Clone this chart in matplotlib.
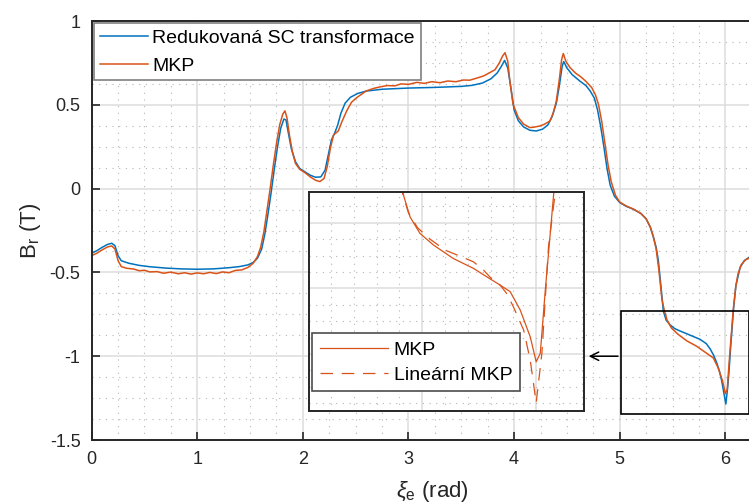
import numpy as np
import matplotlib.pyplot as plt
from matplotlib.ticker import MultipleLocator
from matplotlib.patches import Rectangle

plt.rcParams['font.family'] = ['Liberation Sans', 'DejaVu Sans']
plt.rcParams['mathtext.fontset'] = 'custom'
plt.rcParams['mathtext.rm'] = 'Liberation Sans'
plt.rcParams['mathtext.it'] = 'Liberation Sans:italic'

# ------------------------------------------------------------
# Data
# ------------------------------------------------------------
sc_x = [0.00, 0.05, 0.10, 0.15, 0.19, 0.22, 0.25, 0.28, 0.35, 0.45, 0.55, 0.70,
        0.85, 1.00, 1.15, 1.30, 1.40, 1.48, 1.53, 1.57, 1.61, 1.64, 1.67, 1.70,
        1.73, 1.76, 1.79, 1.82, 1.84, 1.86, 1.89, 1.93, 1.97, 2.02, 2.07, 2.12,
        2.17, 2.21, 2.24, 2.27, 2.30, 2.33, 2.36, 2.40, 2.45, 2.52, 2.60, 2.75,
        3.00, 3.25, 3.50, 3.60, 3.70, 3.78, 3.84, 3.88, 3.91, 3.94, 3.97, 4.00,
        4.04, 4.09, 4.15, 4.21, 4.27, 4.32, 4.36, 4.40, 4.43, 4.455, 4.47, 4.50,
        4.55, 4.62, 4.68, 4.72, 4.76, 4.79, 4.82, 4.85, 4.88, 4.91, 4.95, 5.00,
        5.06, 5.13, 5.20, 5.25, 5.29, 5.32, 5.345, 5.366, 5.39, 5.413, 5.44, 5.476,
        5.52, 5.57, 5.65, 5.76, 5.82, 5.855, 5.89, 5.918, 5.945, 5.966, 5.985, 6.005,
        6.02, 6.035, 6.05, 6.076, 6.10, 6.14, 6.18, 6.225, 6.283]
sc_y = [-0.385, -0.37, -0.35, -0.333, -0.326, -0.34, -0.40, -0.43, -0.445, -0.458, -0.466, -0.474,
        -0.479, -0.481, -0.479, -0.472, -0.465, -0.455, -0.44, -0.415, -0.36, -0.27, -0.15, -0.02,
        0.12, 0.25, 0.36, 0.415, 0.41, 0.34, 0.24, 0.16, 0.12, 0.10, 0.08, 0.068,
        0.07, 0.11, 0.20, 0.29, 0.33, 0.38, 0.45, 0.51, 0.545, 0.568, 0.582, 0.593,
        0.600, 0.604, 0.61, 0.616, 0.630, 0.655, 0.69, 0.73, 0.765, 0.72, 0.60, 0.47,
        0.405, 0.368, 0.348, 0.344, 0.355, 0.38, 0.43, 0.51, 0.62, 0.73, 0.758, 0.72,
        0.68, 0.643, 0.615, 0.583, 0.54, 0.47, 0.37, 0.25, 0.12, 0.02, -0.045, -0.083,
        -0.105, -0.123, -0.148, -0.18, -0.23, -0.292, -0.35, -0.43, -0.58, -0.73, -0.785, -0.812,
        -0.835, -0.849, -0.87, -0.899, -0.925, -0.955, -0.995, -1.038, -1.09, -1.147, -1.215, -1.285,
        -1.20, -1.09, -0.95, -0.73, -0.58, -0.47, -0.43, -0.41, -0.385]

mkp_x = [0.00, 0.05, 0.10, 0.15, 0.19, 0.22, 0.25, 0.28, 0.33, 0.40, 0.45, 0.50,
         0.55, 0.62, 0.68, 0.75, 0.82, 0.88, 0.94, 1.00, 1.06, 1.12, 1.18, 1.24,
         1.30, 1.36, 1.42, 1.48, 1.53, 1.57, 1.60, 1.63, 1.66, 1.69, 1.72, 1.75,
         1.78, 1.81, 1.83, 1.85, 1.87, 1.90, 1.93, 1.97, 2.02, 2.07, 2.12, 2.16,
         2.20, 2.23, 2.26, 2.29, 2.335, 2.37, 2.415, 2.46, 2.51, 2.56, 2.60, 2.67,
         2.73, 2.80, 2.87, 2.93, 3.00, 3.08, 3.15, 3.22, 3.30, 3.37, 3.45, 3.52,
         3.58, 3.65, 3.71, 3.77, 3.82, 3.86, 3.89, 3.914, 3.94, 3.96, 3.99, 4.04,
         4.09, 4.15, 4.20, 4.245, 4.29, 4.34, 4.37, 4.40, 4.43, 4.45, 4.466, 4.49,
         4.53, 4.58, 4.63, 4.68, 4.735, 4.77, 4.80, 4.83, 4.86, 4.89, 4.92, 4.96,
         5.00, 5.06, 5.13, 5.20, 5.25, 5.29, 5.32, 5.345, 5.37, 5.40, 5.42, 5.447,
         5.49, 5.55, 5.637, 5.725, 5.784, 5.842, 5.886, 5.93, 5.974, 6.00, 6.018, 6.04,
         6.077, 6.10, 6.12, 6.15, 6.19, 6.225, 6.283]
mkp_y = [-0.40, -0.385, -0.365, -0.348, -0.342, -0.36, -0.43, -0.465, -0.475, -0.48, -0.49, -0.487,
         -0.497, -0.495, -0.505, -0.498, -0.508, -0.502, -0.51, -0.503, -0.508, -0.50, -0.507, -0.497,
         -0.502, -0.488, -0.485, -0.47, -0.445, -0.405, -0.35, -0.26, -0.13, 0.0, 0.14, 0.27,
         0.38, 0.445, 0.464, 0.42, 0.33, 0.22, 0.15, 0.115, 0.095, 0.07, 0.05, 0.042,
         0.06, 0.13, 0.24, 0.32, 0.344, 0.40, 0.464, 0.515, 0.543, 0.565, 0.583, 0.598,
         0.607, 0.615, 0.613, 0.625, 0.622, 0.634, 0.628, 0.638, 0.632, 0.642, 0.638, 0.648,
         0.647, 0.66, 0.672, 0.692, 0.71, 0.75, 0.79, 0.811, 0.76, 0.64, 0.504, 0.424,
         0.385, 0.364, 0.368, 0.374, 0.385, 0.404, 0.45, 0.523, 0.66, 0.77, 0.806, 0.76,
         0.722, 0.69, 0.668, 0.64, 0.603, 0.56, 0.50, 0.40, 0.27, 0.14, 0.04, -0.04,
         -0.08, -0.103, -0.122, -0.148, -0.18, -0.23, -0.29, -0.36, -0.48, -0.66, -0.72, -0.782,
         -0.832, -0.868, -0.909, -0.939, -0.965, -0.99, -1.01, -1.066, -1.148, -1.224, -1.198, -1.005,
         -0.71, -0.58, -0.51, -0.455, -0.425, -0.415, -0.40]

lin_x = [5.38, 5.41, 5.44, 5.48, 5.535, 5.60, 5.67, 5.725, 5.769, 5.81, 5.842, 5.87,
         5.90, 5.945, 5.974, 6.00, 6.025, 6.054, 6.083, 6.10]
lin_y = [-0.55, -0.70, -0.77, -0.815, -0.85, -0.883, -0.903, -0.919, -0.944, -0.975, -0.99, -1.015,
         -1.056, -1.127, -1.219, -1.349, -1.198, -0.873, -0.711, -0.62]

blue = '#0072BD'
orange = '#D95319'
dark = '#262626'

fig = plt.figure(figsize=(7.49, 5.03), dpi=100)
ax = fig.add_axes([0.1224, 0.1252, 0.8859, 0.833])


def style_grid(a, xmaj, xmin, ymaj, ymin):
    a.xaxis.set_major_locator(MultipleLocator(xmaj))
    a.xaxis.set_minor_locator(MultipleLocator(xmin))
    a.yaxis.set_major_locator(MultipleLocator(ymaj))
    a.yaxis.set_minor_locator(MultipleLocator(ymin))
    a.grid(True, which='major', color='#dcdcdc', lw=1.1)
    a.grid(True, which='minor', color='#b5b5b5', lw=0.8, linestyle=(0, (1, 5)))
    a.set_axisbelow(True)
    for s in a.spines.values():
        s.set_color(dark)
        s.set_linewidth(1.4)


# ------------------------------------------------------------
# Main axes
# ------------------------------------------------------------
ax.plot(sc_x, sc_y, color=blue, lw=1.1, label='Redukovaná SC transformace')
ax.plot(mkp_x, mkp_y, color=orange, lw=1.1, label='MKP')
ax.set_xlim(0, 2 * np.pi)
ax.set_ylim(-1.5, 1)
style_grid(ax, 1, 0.25, 0.5, 0.125)
ax.tick_params(which='major', direction='in', length=6, width=1.2, colors=dark,
               labelsize=13, pad=8)
ax.tick_params(which='minor', length=0)
ax.set_yticks([-1.5, -1, -0.5, 0, 0.5, 1])
ax.set_yticklabels(['-1.5', '-1', '-0.5', '0', '0.5', '1'])
ax.set_xlabel(r'$\xi_\mathrm{e}$ (rad)', fontsize=16, color=dark, labelpad=8)
ax.xaxis.label.set_x(0.513)
ax.set_ylabel(r'B$_\mathrm{r}$ (T)', fontsize=16, color=dark, labelpad=5)

leg = ax.legend(loc='upper left', fontsize=14, frameon=True, fancybox=False,
                borderaxespad=0.12, borderpad=0.3, handlelength=2.5,
                handletextpad=0.2, labelspacing=0.52)
leg.get_frame().set_edgecolor('#7f7f7f')
leg.get_frame().set_linewidth(1.2)
leg.get_frame().set_alpha(1)

# zoom box and arrow
ax.add_patch(Rectangle((5.01, -1.345), 1.21, 0.615, fill=False, ec='black', lw=1.2, zorder=5))
ax.annotate('', xy=(4.68, -1.0), xytext=(5.01, -1.0),
            arrowprops=dict(arrowstyle='->,head_length=0.6,head_width=0.3', color='black', lw=1.1))

# ------------------------------------------------------------
# Inset
# ------------------------------------------------------------
ins = fig.add_axes([0.4126, 0.1829, 0.3672, 0.4354])
ins.plot(mkp_x, mkp_y, color=orange, lw=0.9, label='MKP')
ins.plot(lin_x, lin_y, color=orange, lw=0.9, dashes=(10, 7), label='Lineární MKP')
ins.set_xlim(5.004, 6.21)
ins.set_ylim(-1.374, -0.706)
style_grid(ins, 0.5, 0.1, 0.2, 0.05)
ins.tick_params(which='both', length=0, labelbottom=False, labelleft=False)
ileg = ins.legend(loc='lower left', bbox_to_anchor=(0.011, 0.09), fontsize=14,
                  frameon=True, fancybox=False, borderaxespad=0, borderpad=0.4,
                  handlelength=3.5, handletextpad=0.3, labelspacing=0.38)
ileg.get_frame().set_edgecolor('#4d4d4d')
ileg.get_frame().set_linewidth(1.2)
ileg.get_frame().set_alpha(1)

fig.savefig('out.png', dpi=100)
